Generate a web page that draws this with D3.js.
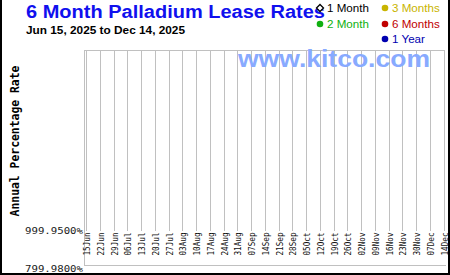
<!DOCTYPE html>
<html>
<head>
<meta charset="utf-8">
<script src="https://cdn.jsdelivr.net/npm/d3@7"></script>
<style>
body { margin: 0; background: #fff; }
svg { display: block; }
</style>
</head>
<body>
<svg width="450" height="275"></svg>
<script>
// chart data
var titleText = '6 Month Palladium Lease Rates';
var subText = 'Jun 15, 2025 to Dec 14, 2025';
var seriesNames = ['1 Month', '2 Month', '3 Months', '6 Months', '1 Year'];
var seriesColors = ['#000000', '#10b010', '#c8b400', '#c00000', '#0000b0'];
// no points were plotted in the reference for the period
var oneMonth = [];
var twoMonth = [];
var threeMonths = [];
var sixMonths = [];
var oneYear = [];
var yTicks = [799.98, 999.95];
var xTicks = ['2025-06-15', '2025-06-22', '2025-06-29', '2025-07-06', '2025-07-13', '2025-07-20',
  '2025-07-27', '2025-08-03', '2025-08-10', '2025-08-17', '2025-08-24', '2025-08-31', '2025-09-07',
  '2025-09-14', '2025-09-21', '2025-09-28', '2025-10-05', '2025-10-12', '2025-10-19', '2025-10-26',
  '2025-11-02', '2025-11-09', '2025-11-16', '2025-11-23', '2025-11-30', '2025-12-07', '2025-12-14'];

var parse = d3.timeParse('%Y-%m-%d');
var dates = xTicks.map(parse);
var svg = d3.select('svg');

var x = d3.scaleTime().domain([dates[0], dates[dates.length - 1]]).range([86, 443.5]);
var y = d3.scaleLinear().domain([yTicks[0], yTicks[1]]).range([268.5, 231]);

// frame
svg.append('line').attr('x1', 84.5).attr('y1', 50).attr('x2', 84.5).attr('y2', 265.5)
  .attr('stroke', '#c0c0c0').attr('stroke-width', 1);
svg.append('line').attr('x1', 84).attr('y1', 265.5).attr('x2', 446).attr('y2', 265.5)
  .attr('stroke', '#c0c0c0').attr('stroke-width', 1);
svg.append('line').attr('x1', 84).attr('y1', 50.5).attr('x2', 444).attr('y2', 50.5)
  .attr('stroke', '#c0c0c0').attr('stroke-width', 1);

// vertical grid
svg.append('g').selectAll('line').data(dates).enter().append('line')
  .attr('x1', function (d) { return Math.round(x(d)) + 0.5; })
  .attr('x2', function (d) { return Math.round(x(d)) + 0.5; })
  .attr('y1', 50).attr('y2', 231)
  .attr('stroke', '#c0c0c0').attr('stroke-width', 1);

// x labels
var fmt = d3.timeFormat('%d%b');
svg.append('g').selectAll('text').data(dates).enter().append('text')
  .attr('transform', function (d) { return 'translate(' + (Math.round(x(d)) + 1) + ',255.5) rotate(-90)'; })
  .attr('dominant-baseline', 'central')
  .attr('font-family', 'DejaVu Sans Mono').attr('font-size', 8.6).attr('fill', '#111')
  .attr('textLength', 23).attr('lengthAdjust', 'spacingAndGlyphs')
  .text(fmt);

// y labels
svg.append('g').selectAll('text').data(yTicks).enter().append('text')
  .attr('x', 83).attr('y', function (d) { return y(d); })
  .attr('text-anchor', 'end').attr('dominant-baseline', 'central')
  .attr('font-family', 'DejaVu Sans Mono').attr('font-size', 8.2).attr('fill', '#222')
  .attr('textLength', 58).attr('lengthAdjust', 'spacingAndGlyphs')
  .text(function (d) { return d3.format('.4f')(d) + '%'; });

// y title
svg.append('text').attr('transform', 'translate(15,141) rotate(-90)')
  .attr('text-anchor', 'middle').attr('dominant-baseline', 'central')
  .attr('font-family', 'DejaVu Sans Mono').attr('font-weight', 'bold').attr('font-size', 11.4)
  .attr('fill', '#000').text('Annual Percentage Rate');

// watermark
svg.append('text').attr('x', 238).attr('y', 66.5)
  .attr('font-family', 'Liberation Sans, Arial').attr('font-weight', 'bold').attr('font-size', 23)
  .attr('textLength', 192).attr('lengthAdjust', 'spacingAndGlyphs')
  .attr('fill', '#88aaff').text('www.kitco.com');

// lines for each series (empty in this period)
var line = d3.line().x(function (d) { return x(parse(d[0])); }).y(function (d) { return y(d[1]); });
[oneMonth, twoMonth, threeMonths, sixMonths, oneYear].forEach(function (s, i) {
  svg.append('path').datum(s).attr('d', line).attr('fill', 'none').attr('stroke', seriesColors[i]);
});

// title
svg.append('text').attr('x', 26).attr('y', 18)
  .attr('font-family', 'Liberation Sans, Arial').attr('font-weight', 'bold').attr('font-size', 17.5)
  .attr('textLength', 299).attr('lengthAdjust', 'spacingAndGlyphs')
  .attr('fill', '#1010ee').text(titleText);
svg.append('text').attr('x', 26).attr('y', 34)
  .attr('font-family', 'Liberation Sans, Arial').attr('font-weight', 'bold').attr('font-size', 11)
  .attr('textLength', 159).attr('lengthAdjust', 'spacingAndGlyphs')
  .attr('fill', '#000').text(subText);

// legend
var legPos = [[320, 8], [320, 24], [385, 8], [385, 24], [385, 39]];
seriesNames.forEach(function (n, i) {
  var p = legPos[i];
  if (i === 0) {
    svg.append('path').attr('d', 'M' + (p[0] - 3.5) + ',' + p[1] + 'L' + p[0] + ',' + (p[1] - 3.5) + 'L' + (p[0] + 3.5) + ',' + p[1] + 'L' + p[0] + ',' + (p[1] + 3.5) + 'Z')
      .attr('fill', '#fff').attr('stroke', '#000').attr('stroke-width', 1.3);
  } else {
    svg.append('circle').attr('cx', p[0]).attr('cy', p[1]).attr('r', 3.3).attr('fill', seriesColors[i]);
  }
  svg.append('text').attr('x', p[0] + 7).attr('y', p[1] + 4.1)
    .attr('font-family', 'Liberation Sans, Arial').attr('font-size', 11.6)
    .attr('fill', seriesColors[i]).text(n);
});

// outer border
svg.append('path').attr('d', 'M1,0V274H449V0').attr('fill', 'none').attr('stroke', '#000').attr('stroke-width', 2);
</script>
</body>
</html>
